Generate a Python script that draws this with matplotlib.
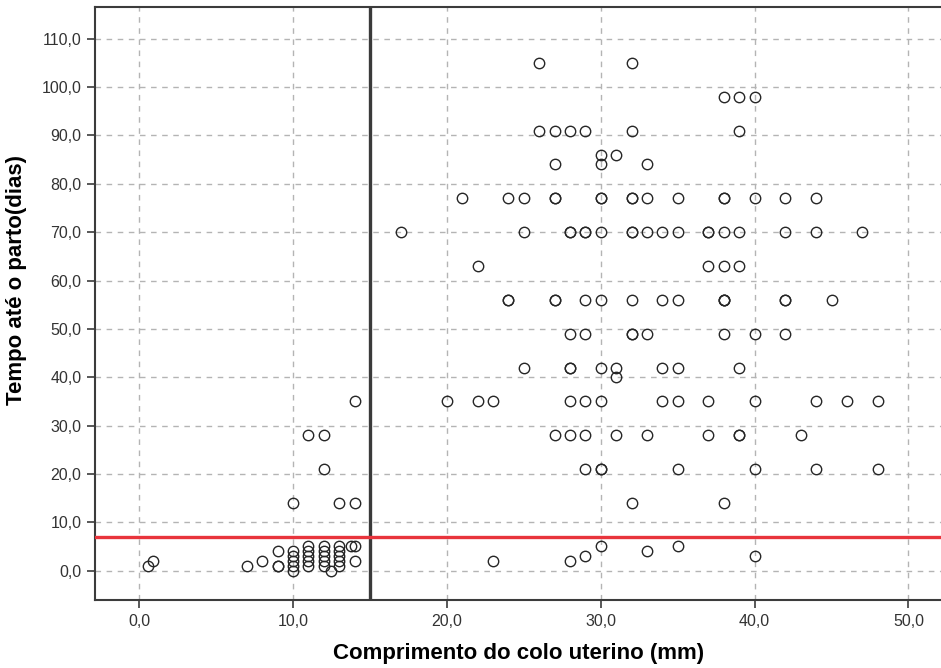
import matplotlib
matplotlib.use("Agg")
import matplotlib.pyplot as plt
from matplotlib.ticker import FuncFormatter

# ---- data: cervical length (mm) and time to delivery (days) ----
# short cervix group (< 15 mm)
short_len = [0.6, 0.9, 7, 8, 9, 9, 9,
             10, 10, 10, 10, 10, 10,
             11, 11, 11, 11, 11, 11,
             12, 12, 12, 12, 12, 12, 12, 12.5,
             13, 13, 13, 13, 13, 13,
             13.8, 14, 14, 14, 14]
short_days = [1, 2, 1, 2, 4, 1, 1,
              0, 1, 2, 3, 4, 14,
              1, 2, 3, 4, 5, 28,
              1, 2, 3, 4, 5, 21, 28, 0,
              1, 2, 3, 4, 5, 14,
              5, 5, 2, 14, 35]

# longer cervix group (>= 15 mm), grouped by delivery time
rows_days = [105, 98, 91, 86, 84, 77, 70, 63, 56, 49, 42, 40, 35, 28, 21, 14, 5, 4, 3, 2]
rows_len = [
    [26, 32],
    [38, 39, 40],
    [26, 27, 28, 29, 32, 39],
    [30, 31],
    [27, 30, 33],
    [21, 24, 25, 27, 27, 30, 30, 32, 32, 33, 35, 38, 38, 40, 42, 44],
    [17, 25, 28, 28, 29, 29, 30, 32, 32, 33, 34, 35, 37, 37, 38, 39, 42, 44, 47],
    [22, 37, 38, 39],
    [24, 24, 27, 27, 29, 30, 32, 34, 35, 38, 38, 38, 42, 42, 45],
    [28, 29, 32, 32, 33, 38, 40, 42],
    [25, 28, 28, 30, 31, 34, 35, 39],
    [31],
    [20, 22, 23, 28, 29, 30, 34, 35, 37, 40, 44, 46, 48],
    [27, 28, 29, 31, 33, 37, 39, 39, 43],
    [29, 30, 30, 35, 40, 44, 48],
    [32, 38],
    [30, 35],
    [33],
    [29, 40],
    [23, 28],
]

cutoff_length = 15
cutoff_days = 7

x_ticks = [0, 10, 20, 30, 40, 50]
y_ticks = [0, 10, 20, 30, 40, 50, 60, 70, 80, 90, 100, 110]

x_vals = list(short_len)
y_vals = list(short_days)
for d, lens in zip(rows_days, rows_len):
    x_vals += lens
    y_vals += [d] * len(lens)

plt.rcParams['font.family'] = ['Liberation Sans', 'DejaVu Sans']

fig = plt.figure(figsize=(9.41, 6.68), dpi=100)
ax = fig.add_axes([0.1014, 0.1018, 0.9, 0.8873])

ax.set_xlim(-2.84, 52.2)
ax.set_ylim(-6.07, 116.5)
ax.set_xticks(x_ticks)
ax.set_yticks(y_ticks)
fmt = FuncFormatter(lambda v, p: f"{v:.1f}".replace('.', ','))
ax.xaxis.set_major_formatter(fmt)
ax.yaxis.set_major_formatter(fmt)

ax.grid(True, linestyle=(0, (4, 4)), color='#b4b4b4', linewidth=1)
ax.set_axisbelow(True)

ax.plot(x_vals, y_vals, linestyle='none', marker='o', markersize=7.5,
        markerfacecolor='none', markeredgecolor='#262626', markeredgewidth=1.0,
        zorder=3)

ax.axvline(cutoff_length, color='#3a3a3a', linewidth=2.4, zorder=4)
ax.axhline(cutoff_days, color='#e8343c', linewidth=2.4, zorder=4)

for s in ['left', 'bottom', 'top', 'right']:
    ax.spines[s].set_color('#3c3c3c')
    ax.spines[s].set_linewidth(1.5)

ax.tick_params(axis='both', direction='out', length=6, width=1.2,
               color='#3c3c3c', labelsize=11.5, labelcolor='#333333', pad=4)

ax.set_xlabel('Comprimento do colo uterino (mm)', fontsize=16,
              fontweight='bold', labelpad=10)
ax.set_ylabel('Tempo até o parto(dias)', fontsize=16, fontweight='bold')
ax.yaxis.set_label_coords(-0.081, 0.54)

fig.savefig('out.png', dpi=100)
